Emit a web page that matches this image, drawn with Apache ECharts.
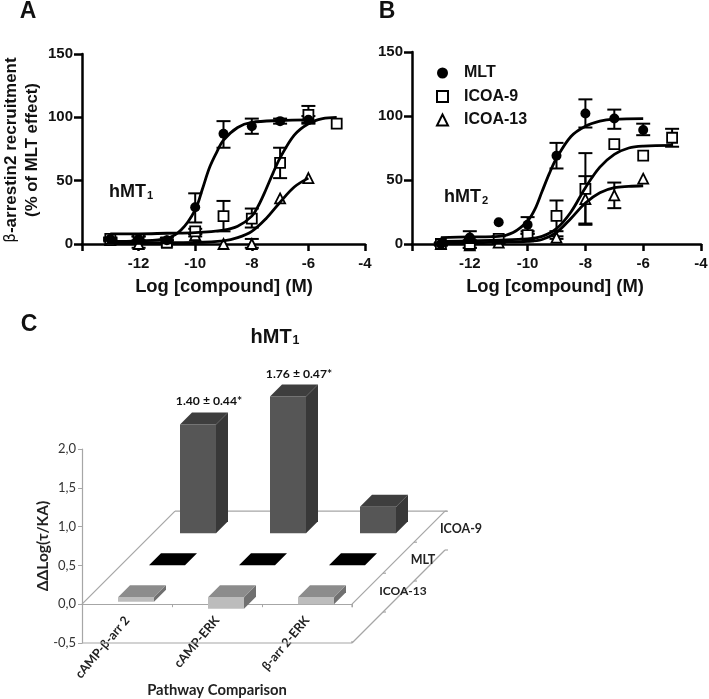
<!DOCTYPE html>
<html><head><meta charset="utf-8">
<style>html,body{margin:0;padding:0;background:#fff}#c{width:709px;height:699px}</style>
<script src="https://cdn.jsdelivr.net/npm/echarts@6/dist/echarts.min.js"></script>
</head><body><div id="c"></div>
<script>
// Panel A: [log dose, value, err low, err high]
const aMLT=[[-13,4,3,5],[-12,4,2,6],[-11,3,1,5],[-10,29,17,40],[-9,87,76,97],[-8,93,87,99],[-7,97,95,99],[-6,98,95,101]];
const aICOA9=[[-13,4,3,5],[-12,4,2,6],[-11,1,0,3],[-10,10,8,12],[-9,22,10,34],[-8,20,13,28],[-7,64,52,76],[-6,102,96,109],[-5,95,95,95]];
const aICOA13=[[-13,3,2,4],[-12,0,-3,3],[-11,2,1,3],[-10,7,6,8],[-9,0,0,0],[-8,0,-3,4],[-7,36,36,36],[-6,52,52,52]];
const aCurveMLT=[[-13,2],[-12,2.5],[-11,4.5],[-10.5,11],[-10,27],[-9.75,43],[-9.5,60],[-9.25,72],[-9,82],[-8.5,92],[-8,96],[-7,97.5],[-6,98]];
const aCurveICOA9=[[-13,8],[-12,8],[-11,8.5],[-10,9],[-9,11],[-8.5,14],[-8,22],[-7.75,31],[-7.5,43],[-7.25,56],[-7,68],[-6.5,86],[-6,95],[-5.5,99],[-5,100]];
const aCurveICOA13=[[-13,1],[-11,1],[-10,1.2],[-9,2.5],[-8.5,5],[-8,10],[-7.5,20],[-7,33],[-6.5,45],[-6,52]];
// Panel B
const bMLT=[[-13,0,-1,1],[-12,5,0,10],[-11,17,17,17],[-10,15,8,21],[-9,69,59,79],[-8,102,91,113],[-7,98,90,105],[-6,89,85,94]];
const bICOA9=[[-13,0,-1,1],[-12,0,-3,3],[-11,4,2,6],[-10,7,4,10],[-9,22,10,34],[-8,43,16,71],[-7,78,78,78],[-6,69,69,69],[-5,83,76,90]];
const bICOA13=[[-13,0,-1,1],[-12,-1,-3,1],[-11,1,0,2],[-10,6,4,8],[-9,5,4,6],[-8,35,15,53],[-7,38,28,48],[-6,51,51,51]];
const bCurveMLT=[[-13,5],[-12,5.5],[-11,6],[-10.5,9],[-10,18],[-9.75,27],[-9.5,41],[-9.25,55],[-9,67],[-8.5,84],[-8,92],[-7.5,96],[-7,97.5],[-6,98]];
const bCurveICOA9=[[-13,2],[-12,2.5],[-11,3],[-10,4],[-9.5,6],[-9,12],[-8.5,25],[-8,44],[-7.5,60],[-7,70],[-6.5,75],[-6,76.5],[-5,77]];
const bCurveICOA13=[[-13,1],[-12,1],[-11,1.5],[-10,2],[-9.5,3.5],[-9,9],[-8.5,20],[-8,32],[-7.5,40],[-7,44],[-6.5,45],[-6,45.5]];
// Panel C
const pathways=['cAMP-β-arr 2','cAMP-ERK','β-arr 2-ERK'];
const rowNames=['ICOA-13','MLT','ICOA-9'];
const cICOA13=[-0.06,-0.15,-0.09];
const cMLT=[0,0,0];
const cICOA9=[1.40,1.76,0.34];
const cNotes=['1.40 ± 0.44*','1.76 ± 0.47*',''];

const ARIAL='"Liberation Sans",Arial,sans-serif', CAL='Lato,"Open Sans",sans-serif';
const chart=echarts.init(document.getElementById('c'),null,{renderer:'canvas'});

function xAx(i){return {gridIndex:i,type:'value',min:-14,max:-4,interval:2,splitLine:{show:false},
  axisLine:{onZero:false,lineStyle:{color:'#000',width:2.5}},axisTick:{length:7,lineStyle:{color:'#000',width:2.5}},
  axisLabel:{color:'#111',fontFamily:ARIAL,fontWeight:'bold',fontSize:15,margin:12,showMinLabel:true,
    formatter:v=>v===-14?'':String(v)}};}
function yAx(i){return {gridIndex:i,type:'value',min:0,max:150,interval:50,splitLine:{show:false},
  axisLine:{onZero:false,lineStyle:{color:'#000',width:2.5}},axisTick:{length:8,lineStyle:{color:'#000',width:2.5}},
  axisLabel:{color:'#111',fontFamily:ARIAL,fontWeight:'bold',fontSize:15,margin:9}};}

function errRender(params,api){
  const x=api.value(0);
  const lo=api.coord([x,api.value(1)]),hi=api.coord([x,api.value(2)]);
  if(Math.abs(lo[1]-hi[1])<1)return {type:'group',children:[]};
  const cap=7,s={stroke:'#000',lineWidth:2,fill:null};
  return {type:'group',children:[
    {type:'line',shape:{x1:lo[0],y1:lo[1],x2:hi[0],y2:hi[1]},style:s},
    {type:'line',shape:{x1:lo[0]-cap,y1:lo[1],x2:lo[0]+cap,y2:lo[1]},style:s},
    {type:'line',shape:{x1:hi[0]-cap,y1:hi[1],x2:hi[0]+cap,y2:hi[1]},style:s}]};
}
function panel(i,pts,curve,name,symbol,size,filled){
  return [
   {type:'custom',xAxisIndex:i,yAxisIndex:i,silent:true,z:2,renderItem:errRender,
    encode:{x:0,y:[1,2]},data:pts.map(p=>[p[0],p[2],p[3]])},
   {type:'line',xAxisIndex:i,yAxisIndex:i,silent:true,z:4,smooth:0.35,showSymbol:false,symbol:'none',clip:false,
    lineStyle:{color:'#000',width:2.8},data:curve},
   {type:'scatter',name:name,xAxisIndex:i,yAxisIndex:i,z:3,clip:false,symbol:symbol,symbolSize:size,
    itemStyle:{color:filled?'#000':'#fff',borderColor:'#000',borderWidth:filled?0:1.8,opacity:1},
    data:pts.map(p=>[p[0],p[1]])}
  ];
}

// pseudo-3D rows in panel C: screen shift of each row and bar geometry
const rowShift=[[9,-7],[40,-39],[71,-71]];
const barW=36,barD=12,depth=93;
const rowColors=[{f:'#bcbcbc',s:'#707070',t:'#8c8c8c'},{f:'#000',s:'#000',t:'#000'},{f:'#565656',s:'#383838',t:'#3e3e3e'}];
function barRender(params,api){
  const cat=api.value(0),v=api.value(1),row=api.value(2);
  const c=rowColors[row],sh=rowShift[row];
  const p0=api.coord([cat,0]),p1=api.coord([cat,v]);
  const cx=p0[0]+sh[0],x0=cx-barW/2,x1=cx+barW/2;
  const yT=Math.min(p0[1],p1[1])+sh[1],yB=Math.max(p0[1],p1[1])+sh[1];
  const ch=[];
  if(yB-yT>0.5){
    ch.push({type:'polygon',shape:{points:[[x1,yT],[x1+barD,yT-barD],[x1+barD,yB-barD],[x1,yB]]},style:{fill:c.s}});
    ch.push({type:'rect',shape:{x:x0,y:yT,width:barW,height:yB-yT},style:{fill:c.f}});
  }
  ch.push({type:'polygon',shape:{points:[[x0,yT],[x1,yT],[x1+barD,yT-barD],[x0+barD,yT-barD]]},style:{fill:c.t}});
  if(row===2&&cNotes[cat]){
    ch.push({type:'text',style:{x:cx+11,y:yT-23,text:cNotes[cat],align:'center',verticalAlign:'middle',
      fill:'#111',fontFamily:CAL,fontWeight:'bold',fontSize:12.2}});
  }
  return {type:'group',children:ch};
}
function floorRender(params,api){
  const band=api.size([1,0])[0];
  const a0=api.coord([0,0]),am=api.coord([0,-0.5]);
  const L=a0[0]-band/2,R=L+3*band,y0=a0[1],yb=am[1];
  const s={stroke:'#a6a6a6',lineWidth:1.2,fill:null};
  const ln=(x1,y1,x2,y2)=>({type:'line',shape:{x1,y1,x2,y2},style:s});
  const ch=[ln(L,y0,L+depth,y0-depth),ln(L+depth,y0-depth,R+depth+2,y0-depth),ln(R,y0,R+depth,y0-depth),
    ln(L,yb,R,yb),ln(R,yb,R+depth,yb-depth),ln(R,y0,R,y0+3),ln(R,yb,R,yb-2)];
  [1,2,3].forEach(k=>{const d=depth*k/3;
    ch.push(ln(R+d,y0-d,R+d+3,y0-d));
    ch.push(ln(R+d,yb-d,R+d+3,yb-d));});
  return {type:'group',children:ch};
}
const barData=[];
[cICOA9,cMLT,cICOA13].forEach((arr,idx)=>{const row=2-idx;arr.forEach((v,i)=>barData.push([i,v,row]));});

function t(x,y,text,size,opt){
  opt=opt||{};
  return {type:'text',x,y,rotation:opt.rot||0,z:20,style:{text,align:opt.align||'center',verticalAlign:'middle',
    fill:opt.fill||'#111',fontFamily:opt.fam||ARIAL,fontWeight:opt.weight||'bold',fontSize:size}};
}
function sub(x,y,label,size){
  return {type:'text',x,y,z:20,style:{text:'{a|hMT}{b|'+label+'}',align:'center',verticalAlign:'middle',
    rich:{a:{fontFamily:ARIAL,fontWeight:'bold',fontSize:size,fill:'#111',color:'#111'},
          b:{fontFamily:ARIAL,fontWeight:'bold',fontSize:size*0.62,fill:'#111',color:'#111',verticalAlign:'bottom',padding:[0,0,0,1],lineHeight:size*0.4}}}};
}
const R90=Math.PI/2;

chart.setOption({
  animation:false,backgroundColor:'#fff',
  grid:[{left:82,top:54,width:283,height:190,outerBoundsMode:'none'},{left:412,top:52,width:289,height:192,outerBoundsMode:'none'},{left:82,top:449,width:270,height:194,outerBoundsMode:'none'}],
  xAxis:[xAx(0),xAx(1),
    {gridIndex:2,type:'category',data:pathways,boundaryGap:true,
     axisLine:{onZero:true,lineStyle:{color:'#a6a6a6',width:1.2}},axisTick:{show:true,length:3,lineStyle:{color:'#a6a6a6'}},
     axisLabel:{rotate:50,interval:0,color:'#222',fontFamily:CAL,fontWeight:'bold',fontSize:12.5,margin:-25},splitLine:{show:false}}],
  yAxis:[yAx(0),yAx(1),
    {gridIndex:2,type:'value',min:-0.5,max:2,interval:0.5,splitLine:{show:false},
     axisLine:{show:true,onZero:false,lineStyle:{color:'#a6a6a6',width:1.2}},axisTick:{show:true,length:4,lineStyle:{color:'#a6a6a6'}},
     axisLabel:{color:'#333',fontFamily:CAL,fontSize:13,margin:6,formatter:v=>v.toFixed(1).replace('.',',')}}],
  legend:{left:431,top:60,orient:'vertical',itemWidth:11,itemHeight:11,itemGap:7.5,selectedMode:false,
    textStyle:{color:'#111',fontFamily:ARIAL,fontWeight:'bold',fontSize:16,padding:[0,0,0,11],lineHeight:16},
    data:[{name:'MLT',icon:'circle'},{name:'ICOA-9',icon:'rect'},{name:'ICOA-13',icon:'triangle'}]},
  series:[
    ...panel(0,aICOA13,aCurveICOA13,'ICOA-13','triangle',10,false),
    ...panel(0,aICOA9,aCurveICOA9,'ICOA-9','rect',10,false),
    ...panel(0,aMLT,aCurveMLT,'MLT','circle',10,true),
    ...panel(1,bICOA13,bCurveICOA13,'ICOA-13','triangle',10,false),
    ...panel(1,bICOA9,bCurveICOA9,'ICOA-9','rect',10,false),
    ...panel(1,bMLT,bCurveMLT,'MLT','circle',10,true),
    {type:'custom',xAxisIndex:2,yAxisIndex:2,silent:true,z:2,renderItem:floorRender,data:[[0,0]],encode:{x:0,y:1}},
    {type:'custom',xAxisIndex:2,yAxisIndex:2,silent:true,z:3,renderItem:barRender,data:barData,encode:{x:0,y:1}}
  ],
  graphic:[
    t(28,12,'A',23),t(387,12,'B',23),t(29,325,'C',23),
    sub(131,192,'1',18),sub(466,197,'2',18),sub(275,337,'1',20),
    t(224,287,'Log [compound] (M)',18.4),t(555,287,'Log [compound] (M)',18.4),
    {type:'text',x:11,y:150,rotation:R90,z:20,style:{text:'{g|β}{a|-arrestin2 recruitment}',align:'center',verticalAlign:'middle',
      rich:{g:{fontFamily:'"DejaVu Sans"',fontSize:15,fill:'#111'},a:{fontFamily:ARIAL,fontWeight:'bold',fontSize:17,fill:'#111'}}}},
    t(32,150,'(% of MLT effect)',16.8,{rot:R90}),
    t(43,546,'ΔΔLog(τ/KA)',15.5,{rot:R90,fam:CAL,fill:'#222'}),
    t(217,690,'Pathway Comparison',14.8,{fam:CAL,fill:'#222'}),
    t(461,529,rowNames[2],12.5,{fam:CAL,fill:'#222'}),
    t(423,560,rowNames[1],12.5,{fam:CAL,fill:'#222'}),
    t(403,591,rowNames[0],12,{fam:CAL,fill:'#222'})
  ]
});
</script></body></html>
